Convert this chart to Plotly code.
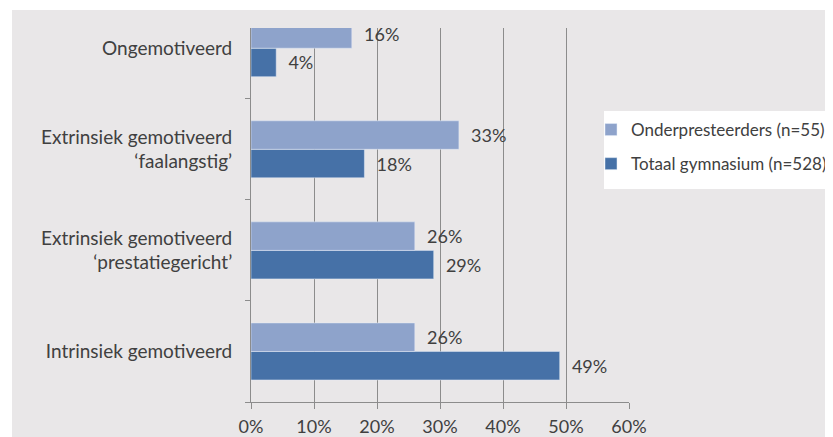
import plotly.graph_objects as go

categories = [
    "Intrinsiek gemotiveerd",
    "Extrinsiek gemotiveerd<br>‘prestatiegericht’",
    "Extrinsiek gemotiveerd<br>‘faalangstig’",
    "Ongemotiveerd",
]
series_names = ["Onderpresteerders (n=55)", "Totaal gymnasium (n=528)"]
onder_values = [26, 26, 33, 16]
totaal_values = [49, 29, 18, 4]
x_tick_values = [0, 10, 20, 30, 40, 50, 60]
x_tick_labels = ["0%", "10%", "20%", "30%", "40%", "50%", "60%"]

LIGHT = "#8ea3cb"
DARK = "#4671a7"
TXT = "#404040"
GRID = "#8c8c8c"
FONT = "Lato"

OFF = 8  # page body margin of the browser
W, H = 833 - OFF, 437 - OFF
# plot area in window pixels: x 251..629, y 28..402
L = 251 - OFF
R = 833 - 629
T = 28 - OFF
B = 437 - 402
pw = W - L - R
ph = H - T - B


def px(xw):
    return (xw - OFF - L) / pw


def py(yw):
    return (H - B - (yw - OFF)) / ph


fig = go.Figure()
fig.add_trace(go.Bar(
    y=categories, x=totaal_values, orientation="h",
    name=series_names[1], marker_color=DARK,
    text=["\u00a0\u00a0%d%%" % v for v in totaal_values],
    textposition="outside", cliponaxis=False,
    textfont=dict(family=FONT, size=18, color=TXT),
    legendrank=2, hoverinfo="skip",
))
fig.add_trace(go.Bar(
    y=categories, x=onder_values, orientation="h",
    name=series_names[0], marker_color=LIGHT,
    text=["\u00a0\u00a0%d%%" % v for v in onder_values],
    textposition="outside", cliponaxis=False,
    textfont=dict(family=FONT, size=18, color=TXT),
    legendrank=1, hoverinfo="skip",
))

# grey chart background (white strip at top and left)
fig.add_shape(
    type="rect", xref="paper", yref="paper", layer="below",
    x0=px(12), x1=px(840), y0=py(445), y1=py(10),
    fillcolor="#e9e7e8", line_width=0,
)
# white legend box
fig.add_shape(
    type="rect", xref="paper", yref="paper", layer="below",
    x0=px(604), x1=px(840), y0=py(189), y1=py(111),
    fillcolor="white", line_width=0,
)

fig.update_layout(
    width=W, height=H,
    margin=dict(l=L, r=R, t=T, b=B, pad=0, autoexpand=False),
    paper_bgcolor="white",
    plot_bgcolor="rgba(0,0,0,0)",
    barmode="group", bargap=0.436, bargroupgap=0.0,
    font=dict(family=FONT, size=19, color=TXT),
    showlegend=True,
    legend=dict(
        x=px(591), y=py(112), xanchor="left", yanchor="top",
        bgcolor="rgba(0,0,0,0)", borderwidth=0,
        font=dict(family=FONT, size=17, color=TXT),
        tracegroupgap=9, itemwidth=30,
    ),
    xaxis=dict(
        range=[0, 60], tickvals=x_tick_values, ticktext=x_tick_labels,
        showgrid=True, gridcolor=GRID, gridwidth=1,
        showline=True, linecolor=GRID, linewidth=1,
        ticks="outside", ticklen=6, tickcolor=GRID,
        zeroline=False, ticklabelstandoff=2,
        tickfont=dict(family=FONT, size=18, color=TXT),
        fixedrange=True,
    ),
    yaxis=dict(
        type="category", categoryorder="array", categoryarray=categories,
        range=[-0.5, 3.2],
        showgrid=False, showline=True, linecolor=GRID, linewidth=1,
        ticks="outside", ticklen=5, tickcolor=GRID, tickson="boundaries",
        ticklabelstandoff=14,
        tickfont=dict(family=FONT, size=19, color=TXT),
        fixedrange=True,
    ),
)
for tr in fig.data:
    tr.legendgroup = tr.name

fig.write_html("out.html")
